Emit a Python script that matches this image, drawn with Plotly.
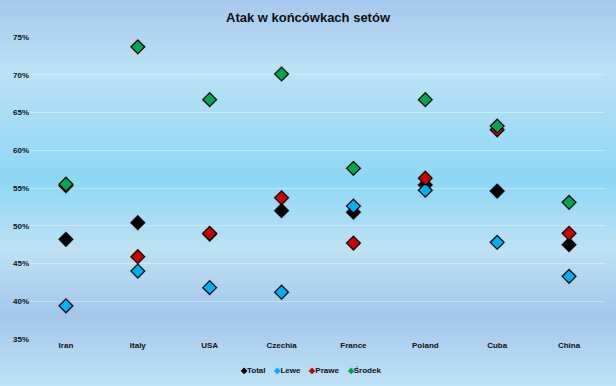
import plotly.graph_objects as go

countries = ["Iran", "Italy", "USA", "Czechia", "France", "Poland", "Cuba", "China"]
total = [0.482, 0.504, 0.489, 0.520, 0.518, 0.554, 0.546, 0.475]
lewe = [0.394, 0.440, 0.418, 0.412, 0.526, 0.547, 0.478, 0.433]
prawe = [0.553, 0.459, 0.490, 0.537, 0.477, 0.563, 0.627, 0.490]
srodek = [0.555, 0.737, 0.667, 0.701, 0.576, 0.667, 0.632, 0.531]

series_names = ["Total", "Lewe", "Prawe", "Środek"]
series_vals = [total, lewe, prawe, srodek]
series_colors = ["#000000", "#00b0f0", "#cc0000", "#00a651"]

# background gradient stops (pixel y from top, colour)
grad_stops = [(0, (166, 200, 236)), (70, (189, 225, 244)), (180, (141, 215, 245)),
              (250, (191, 225, 243)), (315, (164, 198, 234)), (386, (191, 227, 245))]

FONT = "Liberation Sans"

fig = go.Figure()
# soft shadows under the markers
for vals in series_vals:
    fig.add_trace(go.Scatter(
        x=countries, y=vals, mode="markers", showlegend=False, hoverinfo="skip",
        marker=dict(symbol="diamond", size=13, color="rgba(0,0,0,0.18)",
                    line=dict(width=0)),
    ))
for name, vals, col in zip(series_names, series_vals, series_colors):
    fig.add_trace(go.Scatter(
        x=countries, y=vals, mode="markers", name=name, showlegend=False,
        marker=dict(symbol="diamond", size=10.5, color=col,
                    line=dict(color="#000000", width=1.1)),
    ))

T, B = 37, 339
PH = B - T
shapes = []
for i in range(len(grad_stops) - 1):
    y0, c0 = grad_stops[i]
    y1, c1 = grad_stops[i + 1]
    steps = max(1, (y1 - y0) // 2)
    for s in range(steps):
        t = (s + 0.5) / steps
        c = tuple(int(round(c0[k] + (c1[k] - c0[k]) * t)) for k in range(3))
        ya = y0 + (y1 - y0) * s / steps
        yb = y0 + (y1 - y0) * (s + 1) / steps + 0.6
        shapes.append(dict(type="rect", xref="paper", yref="paper",
                           x0=-0.1, x1=1.1,
                           y0=1 + (T - ya) / PH, y1=1 + (T - yb) / PH,
                           fillcolor="rgb(%d,%d,%d)" % c, line=dict(width=0),
                           layer="below"))

# compact legend built as text
legend_text = "&nbsp;&nbsp;&nbsp;&nbsp;".join(
    "<span style='color:%s'>◆</span>%s" % (col, name)
    for name, col in zip(series_names, series_colors)
)

fig.update_layout(
    width=616, height=386,
    margin=dict(l=30, r=11, t=T, b=386 - B, autoexpand=False),
    paper_bgcolor="#b5d9f2",
    plot_bgcolor="rgba(0,0,0,0)",
    shapes=shapes,
    title=dict(text="Atak w końcówkach setów", x=0.5, xanchor="center",
               y=1 - 17 / 386, yanchor="middle",
               font=dict(family=FONT, size=13, color="#111111", weight="bold")),
    font=dict(family=FONT, size=8, color="#111111", weight="bold"),
    xaxis=dict(type="category", range=[-0.5, 7.5], showgrid=False, zeroline=False,
               showline=False, ticks="", tickfont=dict(size=8, weight="bold")),
    yaxis=dict(range=[0.35, 0.75], dtick=0.05, tickformat=".0%",
               showgrid=True, gridcolor="rgba(255,255,255,0.35)", gridwidth=1,
               zeroline=False, showline=False, ticks="",
               tickfont=dict(size=8, weight="bold")),
    annotations=[dict(text=legend_text, xref="paper", yref="paper",
                      x=(310 - 30) / 575, y=-(370 - B) / PH,
                      xanchor="center", yanchor="middle", showarrow=False,
                      font=dict(family=FONT, size=8, color="#111111", weight="bold"))],
    showlegend=False,
)

fig.write_html("out.html", config={"displayModeBar": False})

# remove the default page margin so the figure fills the window exactly
with open("out.html", "r", encoding="utf-8") as f:
    html = f.read()
html = html.replace("<head>", "<head><style>html,body{margin:0;padding:0;overflow:hidden;}</style>", 1)
with open("out.html", "w", encoding="utf-8") as f:
    f.write(html)
